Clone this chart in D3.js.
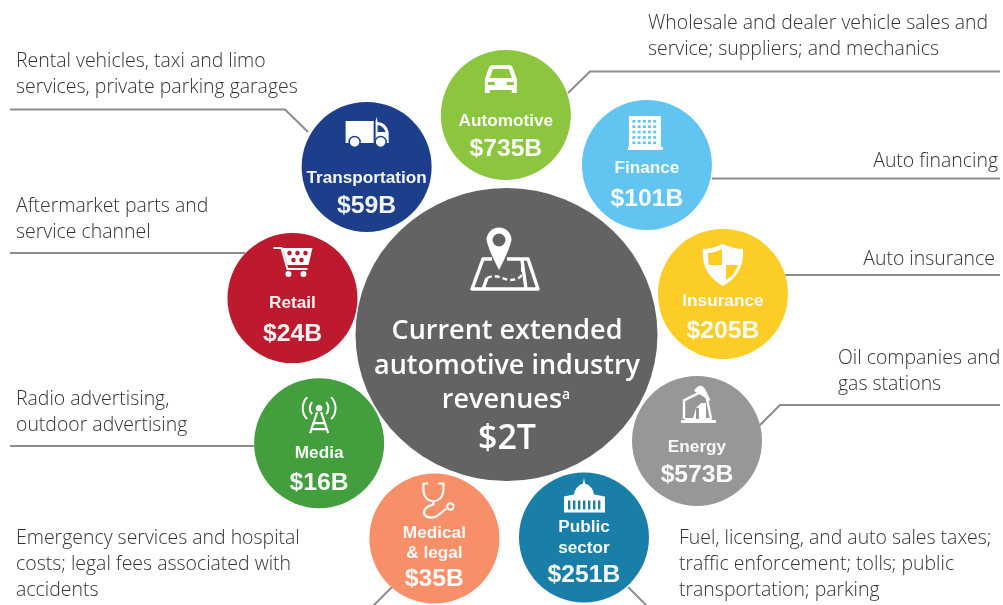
<!DOCTYPE html>
<html><head><meta charset="utf-8">
<script src="https://cdn.jsdelivr.net/npm/d3@7/dist/d3.min.js"></script>
<style>html,body{margin:0;padding:0;background:#fff}svg{display:block;filter:blur(.4px)}</style>
</head><body><div id="c"></div>
<script>
const categories=["Automotive","Finance","Insurance","Energy","Public sector","Medical & legal","Media","Retail","Transportation"];
const valueLabels=["$735B","$101B","$205B","$573B","$251B","$35B","$16B","$24B","$59B"];
const colors=["#8cc63f","#62c5f1","#fdcd27","#979797","#1a7fa8","#f79068","#439e3e","#bd1a2e","#1d3f8b"];
const notes=[
 ["Wholesale and dealer vehicle sales and","service; suppliers; and mechanics"],
 ["Auto financing"],
 ["Auto insurance"],
 ["Oil companies and","gas stations"],
 ["Fuel, licensing, and auto sales taxes;","traffic enforcement; tolls; public","transportation; parking"],
 ["Emergency services and hospital","costs; legal fees associated with","accidents"],
 ["Radio advertising,","outdoor advertising"],
 ["Aftermarket parts and","service channel"],
 ["Rental vehicles, taxi and limo","services, private parking garages"]];
const centerLines=["Current extended","automotive industry","revenues"];
const centerValue="$2T";

// layout (not data): angle/distance round the hub for each bubble
const W=1003,H=605,cx=507,cy=339;
const idx=categories.map((_,i)=>i);
const angle=d3.scaleLinear().domain(idx).range([-0.3,38.8,78.2,118.2,158.8,200,241,280.8,320.8]);
const dist=d3.scaleLinear().domain(idx).range([224,223.3,220.6,215.6,212.9,212.3,214.8,218.4,222.1]);
const px=i=>cx+dist(i)*Math.sin(angle(i)*Math.PI/180);
const py=i=>cy-dist(i)*Math.cos(angle(i)*Math.PI/180);
const labelOffsets=[[11],[8],[12],[11],[-5,16],[0,20],[15],[10],[16]];
const valueOffsets=[41,41,44,41,45,48,47,43,46];

const notePos=[[648,22,"start"],[998,160,"end"],[995,258,"end"],[838,357,"start"],[679,537,"start"],[16,537,"start"],[16,398,"start"],[16,205,"start"],[16,60,"start"]];
const leaders=[
 [[568,93],[590,71.5],[1000,71.5]],
 [[712,178.5],[1000,178.5]],
 [[785,275],[1000,275]],
 [[758,427],[780,405],[1000,405]],
 [[628,587],[648,607]],
 [[392,587],[372,607]],
 [[10,446],[254,446]],
 [[10,253],[245,253]],
 [[10,109.5],[285,109.5],[308,132]]];

const svg=d3.select("#c").append("svg").attr("width",W).attr("height",H).attr("viewBox",`0 0 ${W} ${H}`);
svg.append("rect").attr("width",W).attr("height",H).attr("fill","#fff");

svg.append("g").selectAll("path").data(leaders).join("path")
 .attr("d",d3.line()).attr("fill","none").attr("stroke","#8c8c8e").attr("stroke-width",2);

// annotations
const noteFont="'Open Sans',sans-serif";
svg.append("g").selectAll("text").data(notes).join("text")
 .attr("font-family",noteFont).attr("font-weight",300).attr("font-size",19.45).attr("fill","#333")
 .attr("text-anchor",(d,i)=>notePos[i][2])
 .each(function(d,i){
   d3.select(this).selectAll("tspan").data(d).join("tspan")
    .attr("x",notePos[i][0]).attr("y",(_,k)=>notePos[i][1]+7+k*26).text(t=>t);
 });

// hub
const hubCol="#636363";
const hub=svg.append("g");
hub.append("ellipse").attr("cx",cx-0.5).attr("cy",334.5).attr("rx",151).attr("ry",146.5).attr("fill",hubCol);
const hf="'Open Sans',sans-serif";
hub.selectAll("text.l").data(centerLines).join("text").attr("class","l")
 .attr("x",(d,i)=>cx+(i==2?-1:0)).attr("y",(d,i)=>339+i*34.5).attr("text-anchor","middle")
 .attr("font-family",hf).attr("font-weight",600).attr("font-size",27).attr("fill","#fff")
 .text(d=>d).filter((d,i)=>i==2).append("tspan").attr("dy",-9).attr("font-size",14).text("a");
hub.append("text").attr("x",cx).attr("y",449).attr("text-anchor","middle")
 .attr("font-family",hf).attr("font-weight",600).attr("font-size",34).attr("fill","#fff").text(centerValue);

// hub map-pin icon
const pin=hub.append("g").attr("transform","translate(505,272)").attr("fill","none").attr("stroke","#fff");
pin.append("path").attr("stroke","none").attr("fill","#fff").attr("d","M-18.5,-32 A12.5,12.5 0 1 1 6.5,-32 Q4,-21 -6,-2 Q-16,-21 -18.5,-32Z");
pin.append("circle").attr("cx",-6).attr("cy",-32).attr("r",6.5).attr("fill",hubCol).attr("stroke","none");
pin.append("path").attr("stroke-width",3.4).attr("stroke-linejoin","round").attr("d","M-13,-13 H-22 L-33,17 H33 L23,-13 H2 M-22,17 L-18,6 M21,17 L17,-12");
pin.append("path").attr("stroke-width",2.4).attr("stroke-dasharray","5 3").attr("d","M-18,6 C-8,1 -2,8 5,8 C13,8 19,5 17,-5");

// icons, local coords relative to the bubble centre
const W_="#fff";
const icons={
 "Automotive":g=>{g.append("path").attr("fill",W_).attr("d","M-21,-36 L-17,-47 Q-16,-50 -13,-50 L3,-50 Q6,-50 7,-47 L11,-36 L11,-22 L6,-22 L6,-25 L-16,-25 L-16,-22 L-21,-22Z");
   g.append("path").attr("fill","#8cc63f").attr("d","M-16,-37 L-13,-46 L3,-46 L6,-37Z M-18,-33 h7 v3 h-7Z M1,-33 h7 v3 h-7Z");},
 "Finance":g=>{g.append("rect").attr("x",-18).attr("y",-49).attr("width",32).attr("height",31).attr("fill",W_);
   g.append("rect").attr("x",-19).attr("y",-18).attr("width",35).attr("height",3).attr("fill",W_);
   d3.range(5).forEach(r=>d3.range(5).forEach(c=>g.append("rect").attr("x",-14.5+c*5.2).attr("y",-45+r*5.4).attr("width",3).attr("height",2.6).attr("fill","#62c5f1")));},
 "Insurance":g=>{g.append("path").attr("fill",W_).attr("d","M0,-50 Q11,-45 20,-45 Q22,-20 0,-8 Q-22,-20 -20,-45 Q-11,-45 0,-50Z");
   g.append("path").attr("fill","#fdcd27").attr("d","M-1,-45 Q-9,-41 -15,-41 Q-15,-34 -14,-29 L-1,-29Z M3,-29 L3,-14 Q12,-19 15,-29Z");},
 "Energy":g=>{g.append("path").attr("fill",W_).attr("d","M-16,-18 V-21 L-12,-21 V-23 H-4 L-1,-33 L4,-38 H9 V-23 H14 L15,-21 L19,-21 V-18 Z M-3,-50 Q3,-59 8,-52 L13,-42 L12,-39 L7,-44 Z");
   g.append("path").attr("fill","none").attr("stroke",W_).attr("stroke-width",2.4).attr("d","M-14,-40 L4,-49 M-13,-40 V-22 M10,-42 L14,-22");
   g.append("rect").attr("x",-1).attr("y",-33).attr("width",3).attr("height",11).attr("fill","#979797");},
 "Public sector":g=>{g.append("path").attr("fill",W_).attr("d","M0,-60 L1,-54 Q9,-51 10,-43 L21,-41 L21,-25 L-20,-25 L-20,-41 L-10,-43 Q-9,-51 -1,-54Z");
   g.append("g").attr("fill","#1a7fa8").selectAll("rect").data(d3.range(-15,16,5)).join("rect").attr("x",d=>d-1).attr("y",-37).attr("width",2.4).attr("height",9);},
 "Medical & legal":g=>{g.append("path").attr("fill","none").attr("stroke",W_).attr("stroke-width",2.2).attr("d","M-6,-55 L-11,-55 V-48 Q-10,-38 -1,-37 Q8,-38 9,-48 V-55 L4,-55 M-1,-37 V-34 Q-12,-31 -10,-24 Q-6,-19 2,-22 Q7,-26 12,-30");
   g.append("circle").attr("cx",16).attr("cy",-32).attr("r",3.2).attr("fill","none").attr("stroke",W_).attr("stroke-width",2);},
 "Media":g=>{g.append("path").attr("fill","none").attr("stroke",W_).attr("stroke-width",2.2).attr("d","M-2,-31 L-9,-10 M2,-31 L9,-10 M-5,-20 H5 M-7,-14 H7");
   g.append("circle").attr("cy",-35).attr("r",3.2).attr("fill",W_);
   g.append("path").attr("fill","none").attr("stroke",W_).attr("stroke-width",2).attr("d","M-7,-41 A9,9 0 0 0 -7,-29 M7,-41 A9,9 0 0 1 7,-29 M-12,-46 A16,16 0 0 0 -12,-24 M12,-46 A16,16 0 0 1 12,-24");},
 "Retail":g=>{g.append("path").attr("fill","none").attr("stroke",W_).attr("stroke-width",2).attr("d","M-19,-50 H-11 L-5,-29 H15");
   g.append("path").attr("fill",W_).attr("d","M-10,-50 H20 L16,-33 H-5Z");
   g.append("g").attr("fill","#bd1a2e").selectAll("circle").data([[-3,-45],[5,-45],[13,-45],[1,-38],[9,-38]]).join("circle").attr("cx",d=>d[0]).attr("cy",d=>d[1]).attr("r",2.3);
   g.append("g").attr("fill",W_).selectAll("circle").data([-4,11]).join("circle").attr("cx",d=>d).attr("cy",-24).attr("r",3);},
 "Transportation":g=>{g.append("path").attr("fill",W_).attr("d","M-21,-46 H7 V-24 H-21Z M9,-46 L10,-50 L11,-45 Q19,-45 22,-35 V-24 H9Z");
   g.append("path").attr("fill","#1d3f8b").attr("d","M11,-42 Q17,-41 19,-35 H11Z");
   g.append("g").selectAll("circle").data([-12,14]).join("circle").attr("cx",d=>d).attr("cy",-25).attr("r",5.5).attr("fill",W_).attr("stroke","#1d3f8b").attr("stroke-width",1.5);}
};

const labelParts=c=>c=="Medical & legal"?["Medical","& legal"]:c=="Public sector"?["Public","sector"]:[c];
const sans="'Liberation Sans',Arial,sans-serif";
const bub=svg.append("g").selectAll("g").data(categories).join("g")
 .attr("transform",(d,i)=>`translate(${px(i)},${py(i)})`);
bub.append("circle").attr("r",65).attr("fill",(d,i)=>colors[i]);
bub.each(function(d,i){
  const g=d3.select(this);
  icons[d](g.append("g").attr("class","ico"));
  labelParts(d).forEach((t,k)=>g.append("text").attr("y",labelOffsets[i][k]).attr("text-anchor","middle")
    .attr("font-family",sans).attr("font-weight",700).attr("font-size",17.2).attr("fill","#fff").attr("opacity",.95).text(t));
  g.append("text").attr("y",valueOffsets[i]).attr("text-anchor","middle")
    .attr("font-family",sans).attr("font-weight",700).attr("font-size",24.7).attr("fill","#fff").attr("opacity",.95).text(valueLabels[i]);
});
</script></body></html>
